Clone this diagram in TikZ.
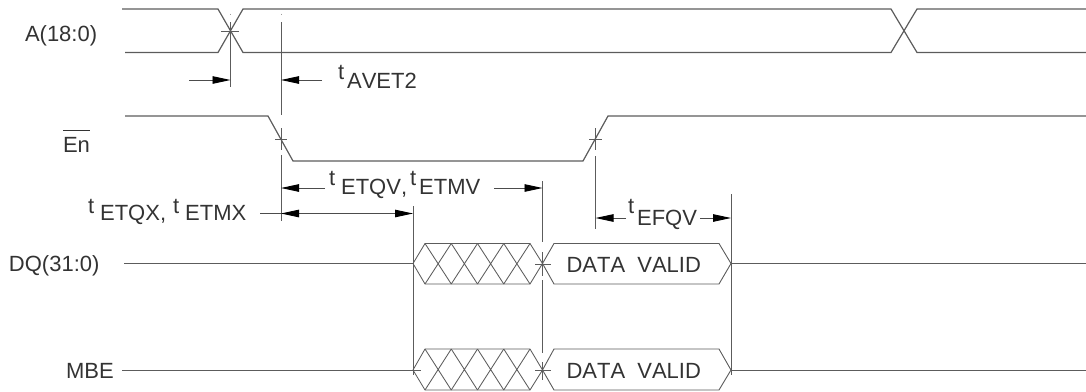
\documentclass[tikz,border=0pt]{standalone}
\usepackage{fontspec}
\setmainfont[Kerning=Off]{Liberation Sans}
\usetikzlibrary{arrows.meta}
\newcommand{\rt}[2]{\raisebox{#1pt}{t}\hspace{#2pt}}
\definecolor{ln}{gray}{0.36}
\definecolor{tx}{gray}{0.2}
\tikzset{
  x=1pt,y=-1pt,
  wave/.style={draw=ln,line width=1.2pt},
  thin wave/.style={draw=ln,line width=0.9pt},
  guide/.style={draw=ln,line width=1pt},
  hatch/.style={draw=ln,line width=0.85pt},
  dim/.style={draw=black!70,line width=0.9pt},
  tipL/.style={-{Triangle[length=18pt,width=7.5pt,fill=black,color=black]}},
  lbl/.style={anchor=base west,inner sep=0pt,outer sep=0pt,text=tx,font=\fontsize{22}{22}\selectfont},
}
\begin{document}
\begin{tikzpicture}
\useasboundingbox (0,0) rectangle (1086,391);
% --- labels
\node[lbl] (la) at (25,41) {A(18:0)};
\node[lbl] (len) at (63,152.5) {En};
\coordinate (enbarL) at (63,130); \coordinate (enbarR) at (90,130);
\draw[draw=tx,line width=0.9pt] (enbarL) -- (enbarR);
\node[lbl] (ldq) at (9,271.5) {DQ(31:0)};
\node[lbl] (lmbe) at (66,378) {MBE};
\node[lbl] (lavet) at (338,88.5) {\rt{9}{3}AVET2};
\node[lbl] (letqv) at (329,194.5) {\rt{9.5}{6}ETQV,\hspace{3pt}\rt{9.5}{3}ETMV};
\node[lbl] (letqx) at (88,220) {\rt{7}{6}ETQX,\hspace{7pt}\rt{7}{6}ETMX};
\node[lbl] (lefqv) at (628,225) {\rt{12}{3}EFQV};
\node[lbl] (dv1) at (566.5,272) {DATA\ \ VALID};
\node[lbl] (dv2) at (566.5,378) {DATA\ \ VALID};
% --- A(18:0) waveform
\draw[wave] (122,9) -- (218,9) -- (243,52.5) -- (891,52.5) -- (917,9) -- (1086,9);
\draw[wave] (125,52.5) -- (218,52.5) -- (243,9) -- (891,9) -- (917,52.5) -- (1086,52.5);
% --- En waveform
\draw[wave] (125,116) -- (268,116) -- (293,161) -- (583,161) -- (608,116) -- (1086,116);
% --- guides
\coordinate (g1a) at (230.5,22); \coordinate (g1b) at (230.5,87);
\coordinate (g2a) at (281,22); \coordinate (g2b) at (281,115);
\coordinate (g3a) at (281,155); \coordinate (g3b) at (281,221);
\coordinate (g4a) at (413,206); \coordinate (g4b) at (413,375);
\coordinate (g5a) at (542.5,181); \coordinate (g5b) at (542.5,242);
\coordinate (g6a) at (542.5,280); \coordinate (g6b) at (542.5,353);
\coordinate (g7a) at (731,194); \coordinate (g7b) at (731,375);
\coordinate (g8a) at (595.5,156); \coordinate (g8b) at (595.5,229);
\foreach \p/\q in {g1a/g1b,g2a/g2b,g3a/g3b,g4a/g4b,g5a/g5b,g6a/g6b,g7a/g7b,g8a/g8b}
  \draw[guide] (\p) -- (\q);
\draw[draw=ln!60,line width=0.6pt] (230.5,13.5) -- (230.5,15) (281,13.5) -- (281,15);
% --- crosses
\draw[guide] (221,31) -- (239,31) (281,128) -- (281,150) (275,139) -- (287,139);
\draw[guide] (595.5,128) -- (595.5,150) (589,139) -- (602,139);
\draw[guide] (535,264) -- (551,264) (542.5,252) -- (542.5,276);
\draw[guide] (535,370) -- (551,370) (542.5,362) -- (542.5,380);
% --- bus signals
\foreach \yt/\ym/\yb/\xs in {243.5/263.5/284/124, 349/370/390/122}{
  \draw[thin wave] (\xs,\ym) -- (413,\ym);
  \draw[thin wave] (731,\ym) -- (1086,\ym);
  \draw[hatch] (413,\ym) -- (425,\yt) -- (530,\yt) -- (542.5,\ym) -- (530,\yb) -- (425,\yb) -- cycle;
  \foreach \i in {0,1,2,3}{
    \pgfmathsetmacro{\xa}{425+26.25*\i}
    \pgfmathsetmacro{\xb}{425+26.25*(\i+1)}
    \draw[hatch] (\xa,\yt) -- (\xb,\yb) (\xa,\yb) -- (\xb,\yt);
  }
  \draw[thin wave] (542.5,\ym) -- (554,\yt) -- (719,\yt) -- (731,\ym) -- (719,\yb) -- (554,\yb) -- cycle;
}
\draw[hatch] (413,370) -- (421,370);
% --- dimension arrows
\coordinate (a1s) at (189,80); \coordinate (a1e) at (230.5,80);
\coordinate (a2s) at (322,80); \coordinate (a2e) at (281,80);
\coordinate (a3s) at (325,188); \coordinate (a3e) at (281,188);
\coordinate (a3t) at (494,188); \coordinate (a3f) at (542.5,188);
\coordinate (a4s) at (260,213.5); \coordinate (a4m) at (320,213.5); \coordinate (a4e) at (281,213.5);
\coordinate (a5f) at (413,213.5);
\coordinate (a6s) at (626,218); \coordinate (a6e) at (595.5,218);
\coordinate (a7s) at (700,218); \coordinate (a7e) at (731,218);
\draw[dim,tipL] (a1s) -- (a1e);
\draw[dim,tipL] (a2s) -- (a2e);
\draw[dim,tipL] (a3s) -- (a3e);
\draw[dim,tipL] (a3t) -- (a3f);
\draw[dim,tipL] (a4s) -- (a5f);
\draw[dim,tipL] (a4m) -- (a4e);
\draw[dim,tipL] (a6s) -- (a6e);
\draw[dim,tipL] (a7s) -- (a7e);
\end{tikzpicture}
\end{document}
